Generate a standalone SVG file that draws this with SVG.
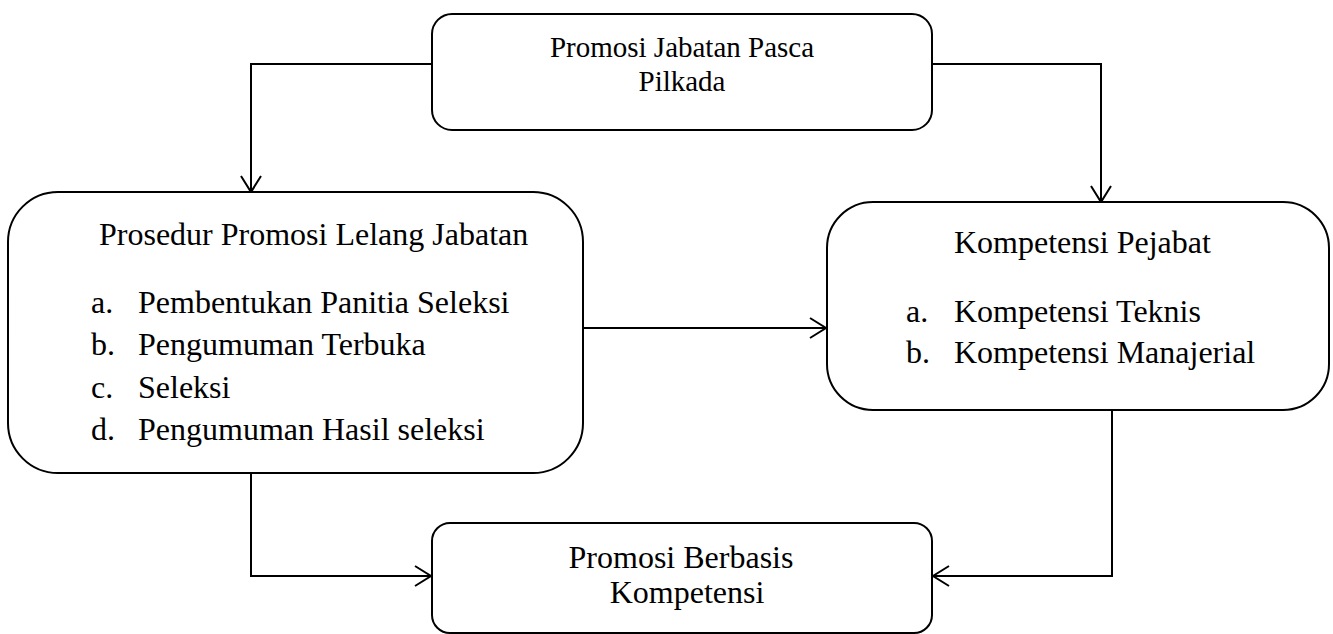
<svg xmlns="http://www.w3.org/2000/svg" width="1333" height="634" viewBox="0 0 1333 634">
<defs>
<marker id="arr" markerWidth="22" markerHeight="24" refX="19" refY="12" orient="auto" markerUnits="userSpaceOnUse">
<path d="M3,2 L19,12 L3,22" fill="none" stroke="#000" stroke-width="2"/>
</marker>
</defs>
<rect width="1333" height="634" fill="#fff"/>
<g id="connectors" fill="none" stroke="#000" stroke-width="2">
<path d="M432,64 H251 V192" marker-end="url(#arr)"/>
<path d="M932,64 H1101 V202" marker-end="url(#arr)"/>
<path d="M583,328 H826" marker-end="url(#arr)"/>
<path d="M251,473 V576 H431" marker-end="url(#arr)"/>
<path d="M1112,410 V576 H933" marker-end="url(#arr)"/>
</g>
<g id="node-top" font-family="Liberation Serif" font-size="29">
<rect x="432" y="14" width="500" height="116" rx="20" fill="#fff" stroke="#000" stroke-width="2"/>
<text text-anchor="middle" x="682" y="57">Promosi Jabatan Pasca</text>
<text text-anchor="middle" x="682" y="91">Pilkada</text>
</g>
<g id="node-prosedur" font-family="Liberation Serif" font-size="32">
<rect x="8" y="192" width="575" height="281" rx="50" fill="#fff" stroke="#000" stroke-width="2"/>
<text x="99" y="245">Prosedur Promosi Lelang Jabatan</text>
<text x="91" y="313">a.</text>
<text x="138" y="313">Pembentukan Panitia Seleksi</text>
<text x="91" y="355">b.</text>
<text x="138" y="355">Pengumuman Terbuka</text>
<text x="91" y="398">c.</text>
<text x="138" y="398">Seleksi</text>
<text x="91" y="440">d.</text>
<text x="138" y="440">Pengumuman Hasil seleksi</text>
</g>
<g id="node-kompetensi" font-family="Liberation Serif" font-size="32">
<rect x="827" y="202" width="502" height="208" rx="46" fill="#fff" stroke="#000" stroke-width="2"/>
<text x="954" y="253">Kompetensi Pejabat</text>
<text x="906" y="322">a.</text>
<text x="954" y="322">Kompetensi Teknis</text>
<text x="906" y="363">b.</text>
<text x="954" y="363">Kompetensi Manajerial</text>
</g>
<g id="node-bottom" font-family="Liberation Serif" font-size="32">
<rect x="432" y="523" width="500" height="110" rx="18" fill="#fff" stroke="#000" stroke-width="2"/>
<text text-anchor="middle" x="681" y="568">Promosi Berbasis</text>
<text text-anchor="middle" x="687" y="603">Kompetensi</text>
</g>
</svg>
